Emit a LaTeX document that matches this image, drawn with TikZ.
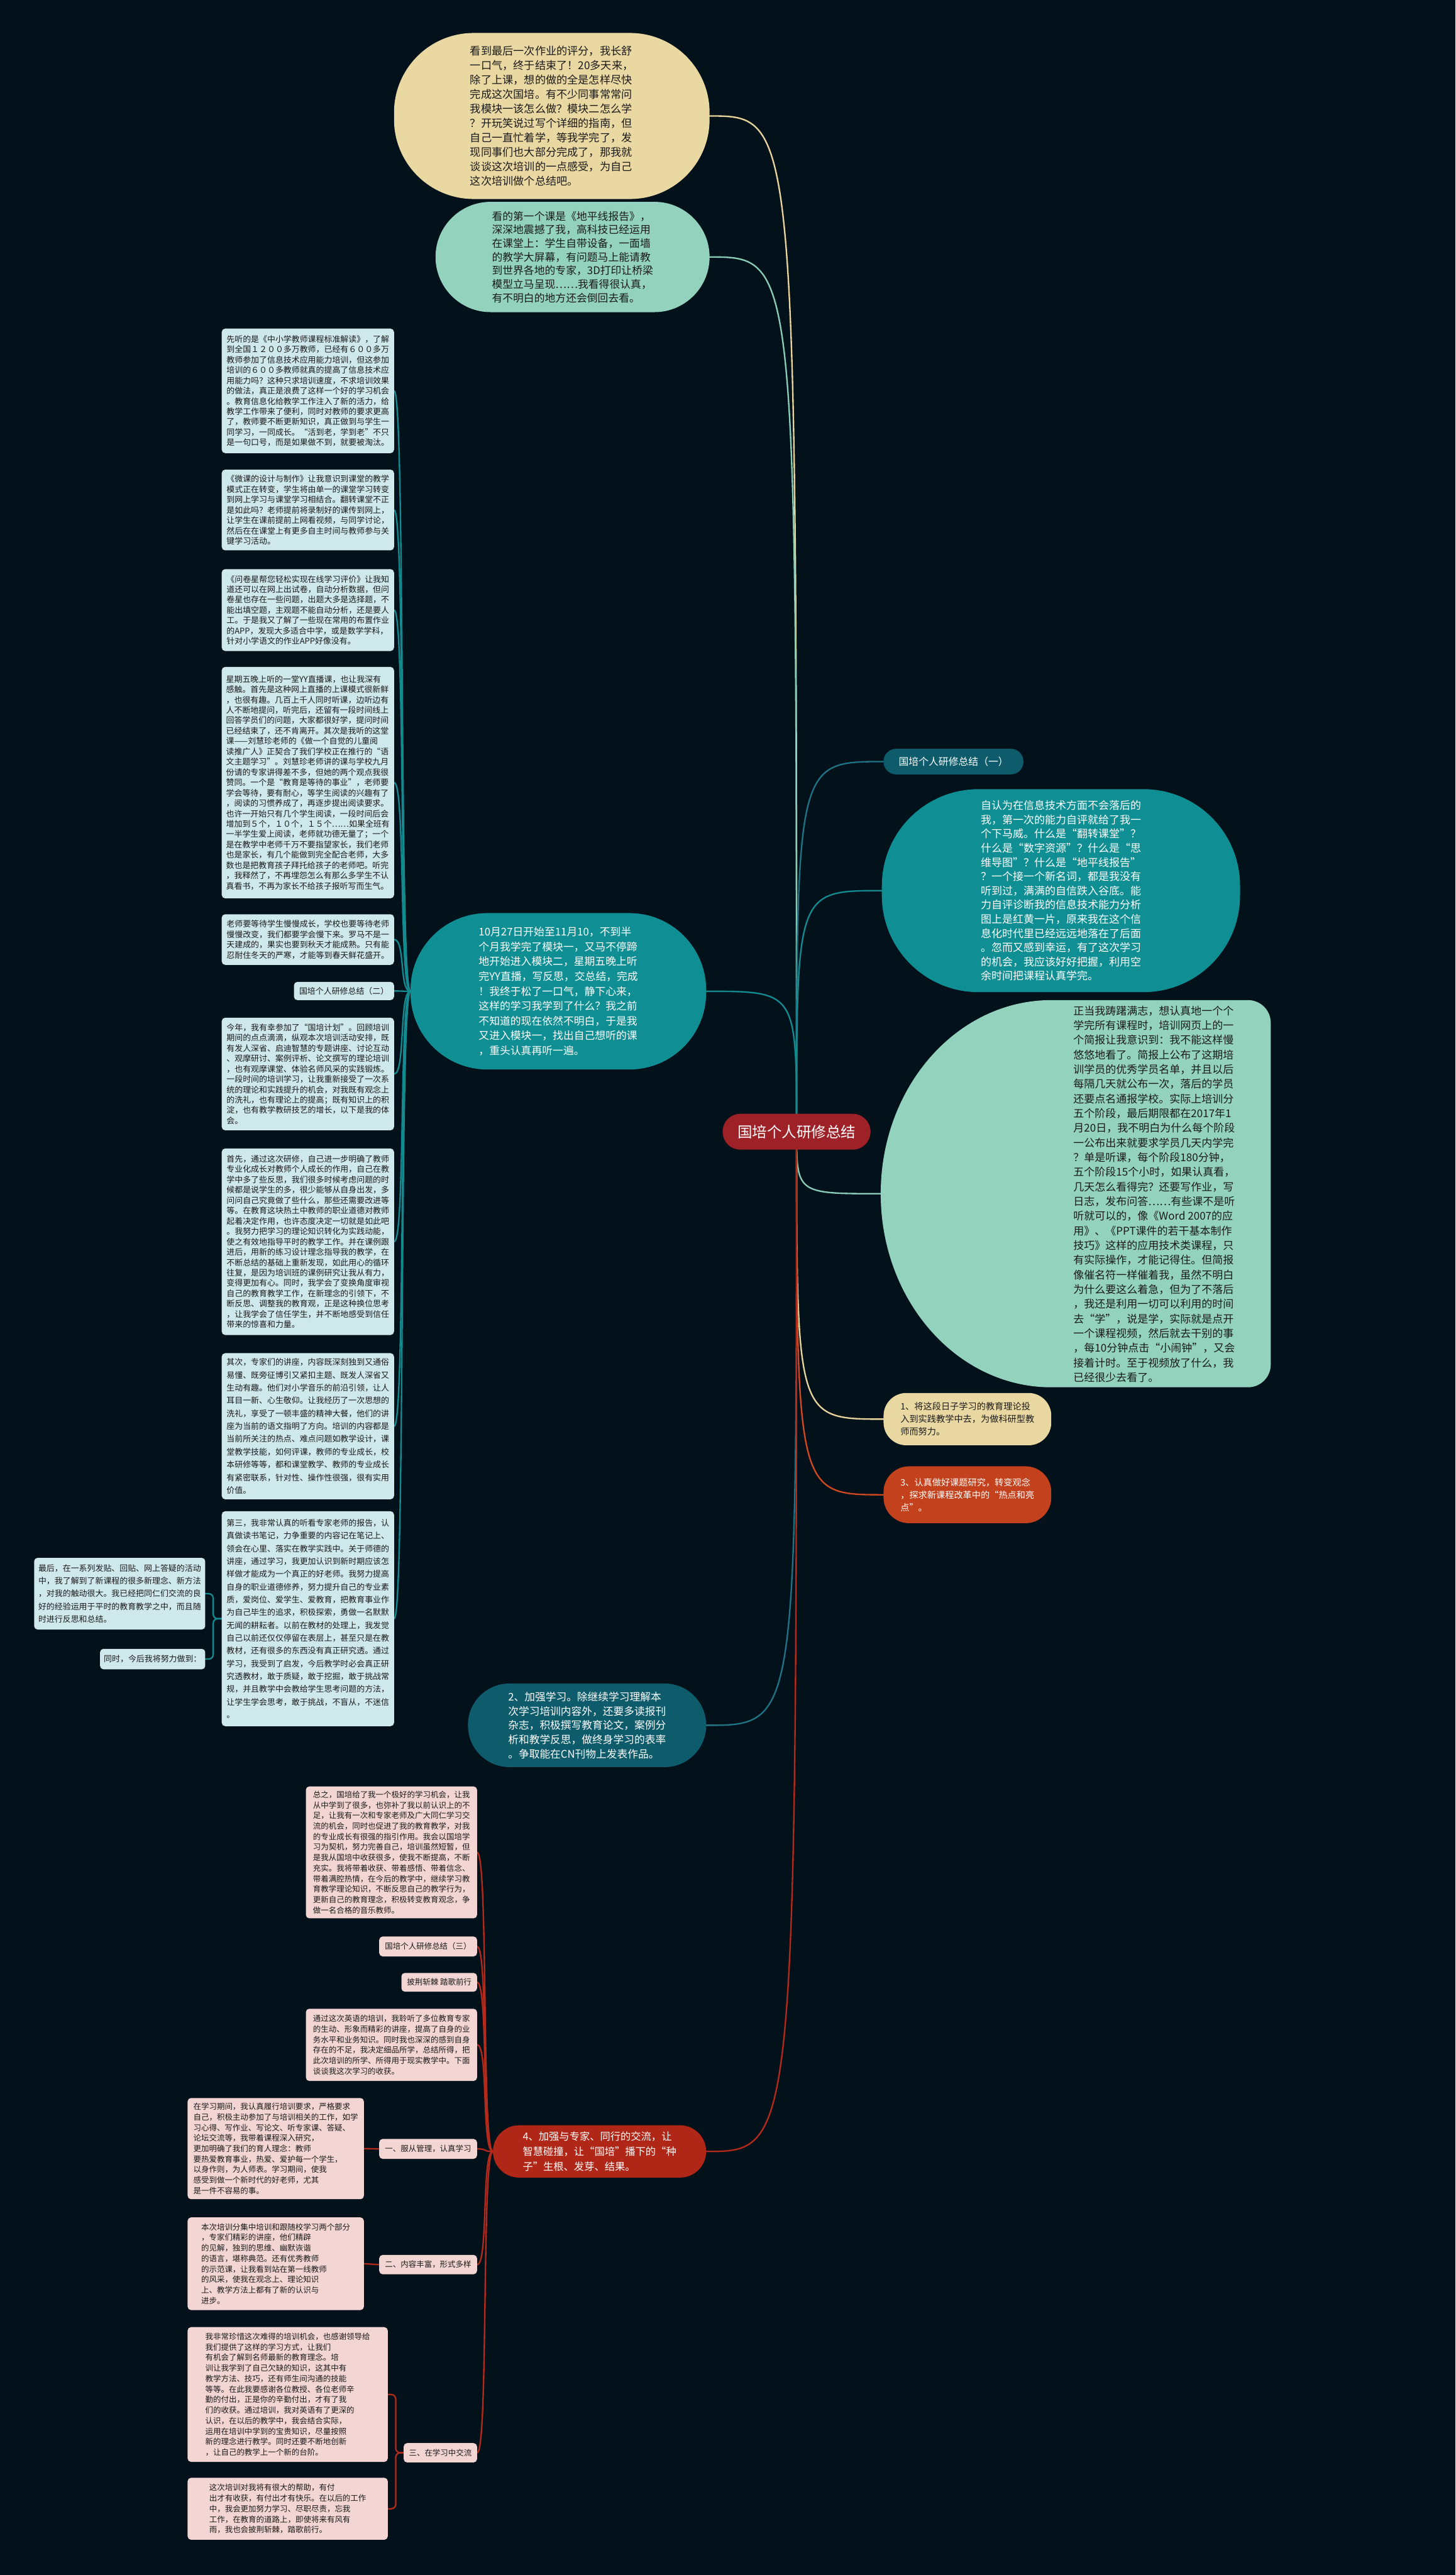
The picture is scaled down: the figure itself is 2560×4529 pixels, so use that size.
\documentclass[tikz,border=0pt]{standalone}
\usepackage{fontspec}
\setmainfont{Noto Sans CJK SC}
\usetikzlibrary{calc}
\definecolor{bgc}{HTML}{03111A}
\definecolor{yel}{HTML}{EAD8A3}
\definecolor{mintc}{HTML}{93D2BD}
\definecolor{tealc}{HTML}{0F8F93}
\definecolor{dteal}{HTML}{0E5C6B}
\definecolor{lbf}{HTML}{CFE8EC}
\definecolor{pinkf}{HTML}{F3D6D3}
\definecolor{cred}{HTML}{9E2127}
\definecolor{rfour}{HTML}{B02718}
\definecolor{orthree}{HTML}{C4411E}
\definecolor{txtd}{HTML}{1A1A1A}
\definecolor{lyel}{HTML}{E6D49C}
\definecolor{lmint}{HTML}{8ACDB7}
\definecolor{lteal}{HTML}{138A90}
\definecolor{ldteal}{HTML}{1F7385}
\definecolor{lred}{HTML}{B22A1C}
\definecolor{lor}{HTML}{D0481F}
\pgfdeclarelayer{bg}
\pgfdeclarelayer{lines}
\pgfsetlayers{bg,lines,main}
\tikzset{
  lb/.style={fill=lbf, rounded corners=6pt, inner sep=0pt, align=left, text=txtd, font=\fontsize{14.3}{18.2}\selectfont},
  lbw/.style={lb, font=\fontsize{14.3}{22.5}\selectfont},
  pk/.style={fill=pinkf, rounded corners=6pt, inner sep=0pt, align=left, text=txtd, font=\fontsize{13.8}{18.5}\selectfont},
  big/.style={inner sep=0pt, align=left, font=\fontsize{19}{25.5}\selectfont},
  conn/.style={line width=2.6pt, line cap=round},
}
\begin{document}
\begin{tikzpicture}[x=1pt,y=-1pt]
\begin{pgfonlayer}{bg}
\fill[bgc] (0,0) rectangle (2560,4529);
\end{pgfonlayer}
\useasboundingbox (0,0) rectangle (2560,4529);

% ---------- top ellipses ----------
\node[big, fill=yel, text=txtd, rounded corners=140pt, minimum width=555, minimum height=292] (Y) at (970.5,204) {看到最后一次作业的评分，我长舒\\一口气，终于结束了！20多天来，\\除了上课，想的做的全是怎样尽快\\完成这次国培。有不少同事常常问\\我模块一该怎么做？模块二怎么学\\？开玩笑说过写个详细的指南，但\\自己一直忙着学，等我学完了，发\\现同事们也大部分完成了，那我就\\谈谈这次培训的一点感受，为自己\\这次培训做个总结吧。};

\node[big, fill=mintc, text=txtd, rounded corners=97pt, minimum width=482, minimum height=194, font=\fontsize{18.6}{24}\selectfont] (G) at (1007,452) {看的第一个课是《地平线报告》，\\深深地震撼了我，高科技已经运用\\在课堂上：学生自带设备，一面墙\\的教学大屏幕，有问题马上能请教\\到世界各地的专家，3D打印让桥梁\\模型立马呈现……我看得很认真，\\有不明白的地方还会倒回去看。};

% ---------- left light boxes ----------
\node[lb, minimum width=303, minimum height=219] (A) at (541.5,687.5) {先听的是《中小学教师课程标准解读》，了解\\到全国１２００多万教师，已经有６００多万\\教师参加了信息技术应用能力培训，但这参加\\培训的６００多教师就真的提高了信息技术应\\用能力吗？这种只求培训速度，不求培训效果\\的做法，真正是浪费了这样一个好的学习机会\\。教育信息化给教学工作注入了新的活力，给\\教学工作带来了便利，同时对教师的要求更高\\了，教师要不断更新知识，真正做到与学生一\\同学习，一同成长。“活到老，学到老”不只\\是一句口号，而是如果做不到，就要被淘汰。};

\node[lb, minimum width=303, minimum height=142] (B) at (541.5,897) {《微课的设计与制作》让我意识到课堂的教学\\模式正在转变，学生将由单一的课堂学习转变\\到网上学习与课堂学习相结合。翻转课堂不正\\是如此吗？老师提前将录制好的课传到网上，\\让学生在课前提前上网看视频，与同学讨论，\\然后在在课堂上有更多自主时间与教师参与关\\键学习活动。};

\node[lb, minimum width=303, minimum height=144] (Cq) at (541.5,1073) {《问卷星帮您轻松实现在线学习评价》让我知\\道还可以在网上出试卷，自动分析数据，但问\\卷星也存在一些问题，出题大多是选择题，不\\能出填空题，主观题不能自动分析，还是要人\\工。于是我又了解了一些现在常用的布置作业\\的APP，发现大多适合中学，或是数学学科，\\针对小学语文的作业APP好像没有。};

\node[lb, minimum width=303, minimum height=407] (D) at (541.5,1376.5) {星期五晚上听的一堂YY直播课，也让我深有\\感触。首先是这种网上直播的上课模式很新鲜\\，也很有趣。几百上千人同时听课，边听边有\\人不断地提问，听完后，还留有一段时间线上\\回答学员们的问题，大家都很好学，提问时间\\已经结束了，还不肯离开。其次是我听的这堂\\课——刘慧珍老师的《做一个自觉的儿童阅\\读推广人》正契合了我们学校正在推行的“语\\文主题学习”。刘慧珍老师讲的课与学校九月\\份请的专家讲得差不多，但她的两个观点我很\\赞同。一个是“教育是等待的事业”，老师要\\学会等待，要有耐心，等学生阅读的兴趣有了\\，阅读的习惯养成了，再逐步提出阅读要求。\\也许一开始只有几个学生阅读，一段时间后会\\增加到５个，１０个，１５个……如果全班有\\一半学生爱上阅读，老师就功德无量了；一个\\是在教学中老师千万不要指望家长，我们老师\\也是家长，有几个能做到完全配合老师，大多\\数也是把教育孩子拜托给孩子的老师吧。听完\\，我释然了，不再埋怨怎么有那么多学生不认\\真看书，不再为家长不给孩子报听写而生气。};

\node[lb, minimum width=303, minimum height=89] (E) at (541.5,1652.5) {老师要等待学生慢慢成长，学校也要等待老师\\慢慢改变，我们都要学会慢下来。罗马不是一\\天建成的，果实也要到秋天才能成熟。只有能\\忍耐住冬天的严寒，才能等到春天鲜花盛开。};

\node[lb, minimum width=176, minimum height=32] (L2) at (605,1743) {国培个人研修总结（二）};

\node[lb, minimum width=303, minimum height=198] (F) at (541.5,1889) {今年，我有幸参加了“国培计划”。回顾培训\\期间的点点滴滴，纵观本次培训活动安排，既\\有发人深省、启迪智慧的专题讲座、讨论互动\\、观摩研讨、案例评析、论文撰写的理论培训\\，也有观摩课堂、体验名师风采的实践锻炼。\\一段时间的培训学习，让我重新接受了一次系\\统的理论和实践提升的机会，对我既有观念上\\的洗礼，也有理论上的提高；既有知识上的积\\淀，也有教学教研技艺的增长，以下是我的体\\会。};

\node[lb, minimum width=303, minimum height=328] (Gs) at (541.5,2184) {首先，通过这次研修，自己进一步明确了教师\\专业化成长对教师个人成长的作用，自己在教\\学中多了些反思，我们很多时候考虑问题的时\\候都是说学生的多，很少能够从自身出发，多\\问问自己究竟做了些什么，那些还需要改进等\\等。在教育这块热土中教师的职业道德对教师\\起着决定作用，也许态度决定一切就是如此吧\\。我努力把学习的理论知识转化为实践动能，\\使之有效地指导平时的教学工作。并在课例跟\\进后，用新的练习设计理念指导我的教学，在\\不断总结的基础上重新发现，如此用心的循环\\往复，是因为培训班的课例研究让我从有力，\\变得更加有心。同时，我学会了变换角度审视\\自己的教育教学工作，在新理念的引领下，不\\断反思、调整我的教育观，正是这种换位思考\\，让我学会了信任学生，并不断地感受到信任\\带来的惊喜和力量。};

\node[lbw, minimum width=303, minimum height=257] (H) at (541.5,2508.5) {其次，专家们的讲座，内容既深刻独到又通俗\\易懂、既旁征博引又紧扣主题、既发人深省又\\生动有趣。他们对小学音乐的前沿引领，让人\\耳目一新、心生敬仰。让我经历了一次思想的\\洗礼，享受了一顿丰盛的精神大餐，他们的讲\\座为当前的语文指明了方向。培训的内容都是\\当前所关注的热点、难点问题如教学设计，课\\堂教学技能，如何评课，教师的专业成长，校\\本研修等等，都和课堂教学、教师的专业成长\\有紧密联系，针对性、操作性很强，很有实用\\价值。};

\node[lbw, minimum width=303, minimum height=378] (I) at (541.5,2847) {第三，我非常认真的听看专家老师的报告，认\\真做读书笔记，力争重要的内容记在笔记上、\\领会在心里、落实在教学实践中。关于师德的\\讲座，通过学习，我更加认识到新时期应该怎\\样做才能成为一个真正的好老师。我努力提高\\自身的职业道德修养，努力提升自己的专业素\\质，爱岗位、爱学生、爱教育，把教育事业作\\为自己毕生的追求，积极探索，勇做一名默默\\无闻的耕耘者。以前在教材的处理上，我发觉\\自己以前还仅仅停留在表层上，甚至只是在教\\教材，还有很多的东西没有真正研究透。通过\\学习，我受到了启发，今后教学时必会真正研\\究透教材，敢于质疑，敢于挖掘，敢于挑战常\\规，并且教学中会教给学生思考问题的方法，\\让学生学会思考，敢于挑战，不盲从，不迷信\\。};

\node[lbw, minimum width=301, minimum height=126] (J) at (210.5,2803) {最后，在一系列发贴、回贴、网上答疑的活动\\中，我了解到了新课程的很多新理念、新方法\\，对我的触动很大。我已经把同仁们交流的良\\好的经验运用于平时的教育教学之中，而且随\\时进行反思和总结。};

\node[lb, minimum width=185, minimum height=36] (K) at (268.5,2918) {同时，今后我将努力做到：};

% ---------- 10/27 node ----------
\node[big, fill=tealc, text=white, rounded corners=135pt, minimum width=520, minimum height=275, font=\fontsize{18.6}{26}\selectfont] (T) at (982,1743.5) {10月27日开始至11月10，不到半\\个月我学完了模块一，又马不停蹄\\地开始进入模块二，星期五晚上听\\完YY直播，写反思，交总结，完成\\！我终于松了一口气，静下心来，\\这样的学习我学到了什么？我之前\\不知道的现在依然不明白，于是我\\又进入模块一，找出自己想听的课\\，重头认真再听一遍。};

% ---------- center ----------
\node[fill=cred, rounded corners=31pt, minimum width=260, minimum height=63, inner sep=0pt, text=white, font=\fontsize{26}{30}\selectfont] (C) at (1401,1990.5) {国培个人研修总结};

% ---------- right side ----------
\node[fill=dteal, rounded corners=22pt, minimum width=246, minimum height=45, inner sep=0pt, text=white, font=\fontsize{17.5}{20}\selectfont] (R1) at (1677,1339.5) {国培个人研修总结（一）};

\node[big, fill=tealc, text=white, rounded corners=170pt, minimum width=630, minimum height=357, font=\fontsize{18.8}{25}\selectfont] (R2) at (1866,1566.5) {自认为在信息技术方面不会落后的\\我，第一次的能力自评就给了我一\\个下马威。什么是“翻转课堂”？\\什么是“数字资源”？什么是“思\\维导图”？什么是“地平线报告”\\？一个接一个新名词，都是我没有\\听到过，满满的自信跌入谷底。能\\力自评诊断我的信息技术能力分析\\图上是红黄一片，原来我在这个信\\息化时代里已经远远地落在了后面\\。忽而又感到幸运，有了这次学习\\的机会，我应该好好把握，利用空\\余时间把课程认真学完。};

\fill[mintc] (1849,1759) -- (2195,1759) arc[start angle=-90,end angle=0,radius=40] -- (2235,2400) arc[start angle=0,end angle=90,radius=40] -- (1849,2440) arc[start angle=90,end angle=270,x radius=300,y radius=340.5] -- cycle;
\coordinate (R3w) at (1549,2099.5);
\node[big, text=txtd, font=\fontsize{18.8}{25.8}\selectfont] (R3) at (2030,2100) {正当我踌躇满志，想认真地一个个\\学完所有课程时，培训网页上的一\\个简报让我意识到：我不能这样慢\\悠悠地看了。简报上公布了这期培\\训学员的优秀学员名单，并且以后\\每隔几天就公布一次，落后的学员\\还要点名通报学校。实际上培训分\\五个阶段，最后期限都在2017年1\\月20日，我不明白为什么每个阶段\\一公布出来就要求学员几天内学完\\？单是听课，每个阶段180分钟，\\五个阶段15个小时，如果认真看，\\几天怎么看得完？还要写作业，写\\日志，发布问答……有些课不是听\\听就可以的，像《Word 2007的应\\用》、《PPT课件的若干基本制作\\技巧》这样的应用技术类课程，只\\有实际操作，才能记得住。但简报\\像催名符一样催着我，虽然不明白\\为什么要这么着急，但为了不落后\\，我还是利用一切可以利用的时间\\去“学”，说是学，实际就是点开\\一个课程视频，然后就去干别的事\\，每10分钟点击“小闹钟”，又会\\接着计时。至于视频放了什么，我\\已经很少去看了。};

\node[fill=yel, text=txtd, rounded corners=40pt, minimum width=295, minimum height=92, inner sep=0pt, align=left, font=\fontsize{15.7}{22}\selectfont] (R4) at (1701.5,2496) {1、将这段日子学习的教育理论投\\入到实践教学中去，为做科研型教\\师而努力。};

\node[fill=orthree, text=white, rounded corners=45pt, minimum width=295, minimum height=100, inner sep=0pt, align=left, font=\fontsize{15.7}{22}\selectfont] (R5) at (1701.5,2629) {3、认真做好课题研究，转变观念\\，探求新课程改革中的“热点和亮\\点”。};

% ---------- bottom ----------
\node[big, fill=dteal, text=white, rounded corners=73pt, minimum width=419, minimum height=147, font=\fontsize{18.5}{25}\selectfont] (B2) at (1032.5,3034.5) {2、加强学习。除继续学习理解本\\次学习培训内容外，还要多读报刊\\杂志，积极撰写教育论文，案例分\\析和教学反思，做终身学习的表率\\。争取能在CN刊物上发表作品。};

\node[big, fill=rfour, text=white, rounded corners=46pt, minimum width=375, minimum height=92, font=\fontsize{18}{26}\selectfont] (B4) at (1054.5,3784) {4、加强与专家、同行的交流，让\\智慧碰撞，让“国培”播下的“种\\子”生根、发芽、结果。};

\node[pk, minimum width=301, minimum height=232] (P1) at (688.5,3258) {总之，国培给了我一个极好的学习机会，让我\\从中学到了很多，也弥补了我以前认识上的不\\足，让我有一次和专家老师及广大同仁学习交\\流的机会，同时也促进了我的教育教学，对我\\的专业成长有很强的指引作用。我会以国培学\\习为契机，努力完善自己，培训虽然短暂，但\\是我从国培中收获很多，使我不断提高，不断\\充实。我将带着收获、带着感悟、带着信念、\\带着满腔热情，在今后的教学中，继续学习教\\育教学理论知识，不断反思自己的教学行为，\\更新自己的教育理念，积极转变教育观念，争\\做一名合格的音乐教师。};

\node[pk, minimum width=172, minimum height=35] (P2) at (753,3423.5) {国培个人研修总结（三）};
\node[pk, minimum width=133, minimum height=33] (P3) at (772.5,3486.5) {披荆斩棘 踏歌前行};

\node[pk, minimum width=301, minimum height=127] (P4) at (688.5,3596.5) {通过这次英语的培训，我聆听了多位教育专家\\的生动、形象而精彩的讲座，提高了自身的业\\务水平和业务知识。同时我也深深的感到自身\\存在的不足，我决定细品所学，总结所得，把\\此次培训的所学、所得用于现实教学中。下面\\谈谈我这次学习的收获。};

\node[pk, minimum width=172, minimum height=35] (P5) at (753,3779.5) {一、服从管理，认真学习};
\node[pk, minimum width=172, minimum height=34] (P6) at (753,3983) {二、内容丰富，形式多样};
\node[pk, minimum width=129, minimum height=34] (P7) at (774.5,4314) {三、在学习中交流};

\node[pk, minimum width=310, minimum height=178] (Q1) at (485,3779) {在学习期间，我认真履行培训要求，严格要求\\自己，积极主动参加了与培训相关的工作，如学\\习心得、写作业、写论文、听专家课、答疑、\\论坛交流等，我带着课程深入研究，\\更加明确了我们的育人理念：教师\\要热爱教育事业，热爱、爱护每一个学生，\\以身作则，为人师表。学习期间，使我\\感受到做一个新时代的好老师，尤其\\是一件不容易的事。};

\node[pk, minimum width=310, minimum height=163] (Q2) at (485,3981.5) {本次培训分集中培训和跟随校学习两个部分\\，专家们精彩的讲座，他们精辟\\的见解，独到的思维、幽默诙谐\\的语言，堪称典范。还有优秀教师\\的示范课，让我看到站在第一线教师\\的风采，使我在观念上、理论知识\\上、教学方法上都有了新的认识与\\进步。};

\node[pk, minimum width=352, minimum height=237] (Q3) at (506,4211.5) {我非常珍惜这次难得的培训机会，也感谢领导给\\我们提供了这样的学习方式，让我们\\有机会了解到名师最新的教育理念。培\\训让我学到了自己欠缺的知识，这其中有\\教学方法、技巧，还有师生间沟通的技能\\等等。在此我要感谢各位教授、各位老师辛\\勤的付出，正是你的辛勤付出，才有了我\\们的收获。通过培训，我对英语有了更深的\\认识，在以后的教学中，我会结合实际，\\运用在培训中学到的宝贵知识，尽量按照\\新的理念进行教学。同时还要不断地创新\\，让自己的教学上一个新的台阶。};

\node[pk, minimum width=352, minimum height=109] (Q4) at (506,4412.5) {这次培训对我将有很大的帮助，有付\\出才有收获，有付出才有快乐。在以后的工作\\中，我会更加努力学习、尽职尽责，忘我\\工作，在教育的道路上，即使将来有风有\\雨，我也会披荆斩棘，踏歌前行。};

% ---------- connectors ----------
\coordinate (c0) at (1401,1990);
\begin{pgfonlayer}{lines}
\draw[conn, lyel] (c0) .. controls (1401,204) .. (Y.east);
\draw[conn, lmint] (c0) .. controls (1401,452) .. (G.east);
\draw[conn, lteal] (c0) .. controls (1401,1743.5) .. (T.east);
\draw[conn, ldteal] (c0) .. controls (1401,1339.5) .. (R1.west);
\draw[conn, lteal] (c0) .. controls (1401,1566.5) .. (R2.west);
\draw[conn, lmint] (c0) .. controls (1401,2099.5) .. (R3w);
\draw[conn, lyel] (c0) .. controls (1401,2496) .. (R4.west);
\draw[conn, lor] (c0) .. controls (1401,2629) .. (R5.west);
\draw[conn, ldteal] (c0) .. controls (1401,3034.5) .. (B2.east);
\draw[conn, lred] (c0) .. controls (1401,3784) .. (B4.east);
\foreach \n in {A,B,Cq,D,E,L2,F,Gs,H,I}{
  \draw[conn, lteal] (T.west) .. controls ($(T.west)+(-20,0)$) and ($(\n.east)+(20,0)$) .. (\n.east);
}
\draw[conn, lteal, rounded corners=8pt] (I.west) -- (375,2847) |- (J.east);
\draw[conn, lteal, rounded corners=8pt] (I.west) -- (375,2847) |- (K.east);
\foreach \n in {P1,P2,P3,P4,P5,P6,P7}{
  \draw[conn, lred] (B4.west) .. controls ($(B4.west)+(-20,0)$) and ($(\n.east)+(20,0)$) .. (\n.east);
}
\draw[conn, lred] (P5.west) -- (Q1.east);
\draw[conn, lred] (P6.west) -- (Q2.east);
\draw[conn, lred, rounded corners=8pt] (P7.west) -- (696,4314) |- (Q3.east);
\draw[conn, lred, rounded corners=8pt] (P7.west) -- (696,4314) |- (Q4.east);
\end{pgfonlayer}
\end{tikzpicture}
\end{document}
